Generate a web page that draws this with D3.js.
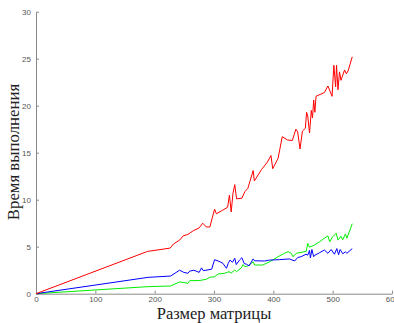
<!DOCTYPE html>
<html>
<head>
<meta charset="utf-8">
<script src="https://cdn.jsdelivr.net/npm/d3@7.9.0/dist/d3.min.js"></script>
<style>
  body { margin: 0; background: #fff; }
  svg { display: block; }
  .axis path, .axis line { stroke: #8a8a8a; }
  .axis text { fill: #555; font-family: "Liberation Sans", Arial, sans-serif; font-size: 8px; }
  .label { font-family: "Liberation Serif", "Times New Roman", serif; fill: #222; }
</style>
</head>
<body>
<svg id="chart" width="394" height="323"></svg>
<script>
// readings from the picture: [matrix size, time]
const redSeries = [
  [0, 0], [188, 4.5], [226, 4.85], [232, 5.3], [242, 5.7], [248, 6.15], [256, 6.3], [265, 6.7],
  [275, 7.0], [281, 7.5], [287, 7.1], [293, 7.1], [301, 9.0], [304, 8.5], [315, 8.9], [323, 9.2],
  [326, 10.5], [329, 8.7], [332, 10.7], [335, 11.6], [338, 10.1], [347, 10.15], [352, 10.85],
  [357, 11.2], [366, 13.1], [368, 12.0], [380, 13.2], [390, 14.0], [396, 14.7], [399, 13.3],
  [408, 14.4], [415, 16.7], [424, 16.35], [432, 16.3], [438, 17.5], [441, 17.2], [445, 15.4],
  [449, 17.3], [454, 17.6], [456, 19.3], [458, 18.9], [461, 17.1], [464, 19.5], [466, 18.7],
  [468, 20.6], [470, 19.3], [472, 21.0], [486, 21.4], [492, 22.1], [499, 21.0], [502, 24.3],
  [505, 22.0], [506.5, 24.3], [509, 21.7], [511.5, 23.6], [514, 22.7], [520, 23.8], [523, 23.4],
  [526, 23.7], [533, 25.2]
];
const blueSeries = [
  [0, 0], [189, 1.74], [227, 1.88], [242, 2.5], [249, 2.27], [256, 2.17], [259, 2.4], [266, 2.5],
  [275, 2.27], [279, 2.75], [282, 2.45], [296, 2.6], [301, 3.62], [310, 3.4], [315, 3.23],
  [321, 2.7], [324, 3.23], [327, 3.58], [331, 3.34], [335, 3.77], [337.5, 3.1], [343, 3.58],
  [347, 3.83], [351, 3.2], [355, 3.13], [359, 2.95], [366, 3.7], [368.5, 3.5], [385, 3.48],
  [394, 3.58], [402, 3.6], [410, 3.62], [427, 3.7], [436, 3.48], [441, 3.85], [447, 3.94],
  [455, 4.2], [458, 4.1], [461, 4.6], [462.5, 3.8], [465, 4.7], [468, 3.94], [470, 4.1],
  [478, 4.36], [486, 4.65], [492, 4.3], [497.5, 4.7], [503, 4.2], [507, 4.8], [510, 4.15],
  [512.5, 4.7], [517, 4.25], [521.5, 4.45], [524, 4.3], [533, 4.8]
];
const greenSeries = [
  [0, 0], [189, 0.75], [227, 0.82], [242, 1.25], [251, 1.17], [256, 1.1], [259, 1.38], [275, 1.4],
  [287, 1.53], [293, 1.75], [301, 1.8], [307, 2.1], [318, 2.17], [325, 2.34], [329, 2.2],
  [335, 2.52], [338, 2.34], [346, 2.75], [349, 3.1], [352, 2.87], [357, 2.95], [366, 3.4],
  [368.5, 3.05], [382, 3.05], [394, 3.4], [399, 3.58], [408, 3.94], [419, 4.3], [425, 4.47],
  [430, 4.3], [433, 3.94], [439, 4.3], [455.5, 4.5], [458, 5.35], [461, 4.95], [469.5, 5.18],
  [478, 5.53], [486, 5.9], [492, 6.14], [495, 5.53], [500, 6.06], [506, 6.43], [509, 5.7],
  [514, 6.1], [517, 5.75], [521.5, 6.35], [524, 5.9], [533, 7.45]
];

const xTicks = [0, 100, 200, 300, 400, 500, 600];
const yTicks = [0, 5, 10, 15, 20, 25, 30];

const svg = d3.select('#chart');

const x = d3.scaleLinear().domain([0, 600]).range([36, 392]);
const y = d3.scaleLinear().domain([0, 30]).range([293.7, 11.7]);

svg.append('g')
  .attr('class', 'axis')
  .attr('transform', `translate(0,${y(0)})`)
  .call(d3.axisBottom(x).tickValues(xTicks).tickSizeInner(-3).tickSizeOuter(0).tickPadding(3));

svg.append('g')
  .attr('class', 'axis')
  .attr('transform', `translate(${x(0)},0)`)
  .call(d3.axisLeft(y).tickValues(yTicks).tickSizeInner(-3).tickSizeOuter(0).tickPadding(5));

const line = d3.line().x(d => x(d[0])).y(d => y(d[1]));

[[greenSeries, '#00ee00'], [blueSeries, '#0000ff'], [redSeries, '#ff0000']].forEach(([data, color]) => {
  svg.append('path')
    .datum(data)
    .attr('fill', 'none')
    .attr('stroke', color)
    .attr('stroke-width', 1)
    .attr('d', line);
});

svg.append('text')
  .attr('class', 'label')
  .attr('x', 214)
  .attr('y', 319)
  .attr('text-anchor', 'middle')
  .style('font-size', '16.5px')
  .text('Размер матрицы');

svg.append('text')
  .attr('class', 'label')
  .attr('transform', 'translate(19,152) rotate(-90)')
  .attr('text-anchor', 'middle')
  .style('font-size', '16.8px')
  .text('Время выполнения');
</script>
</body>
</html>
